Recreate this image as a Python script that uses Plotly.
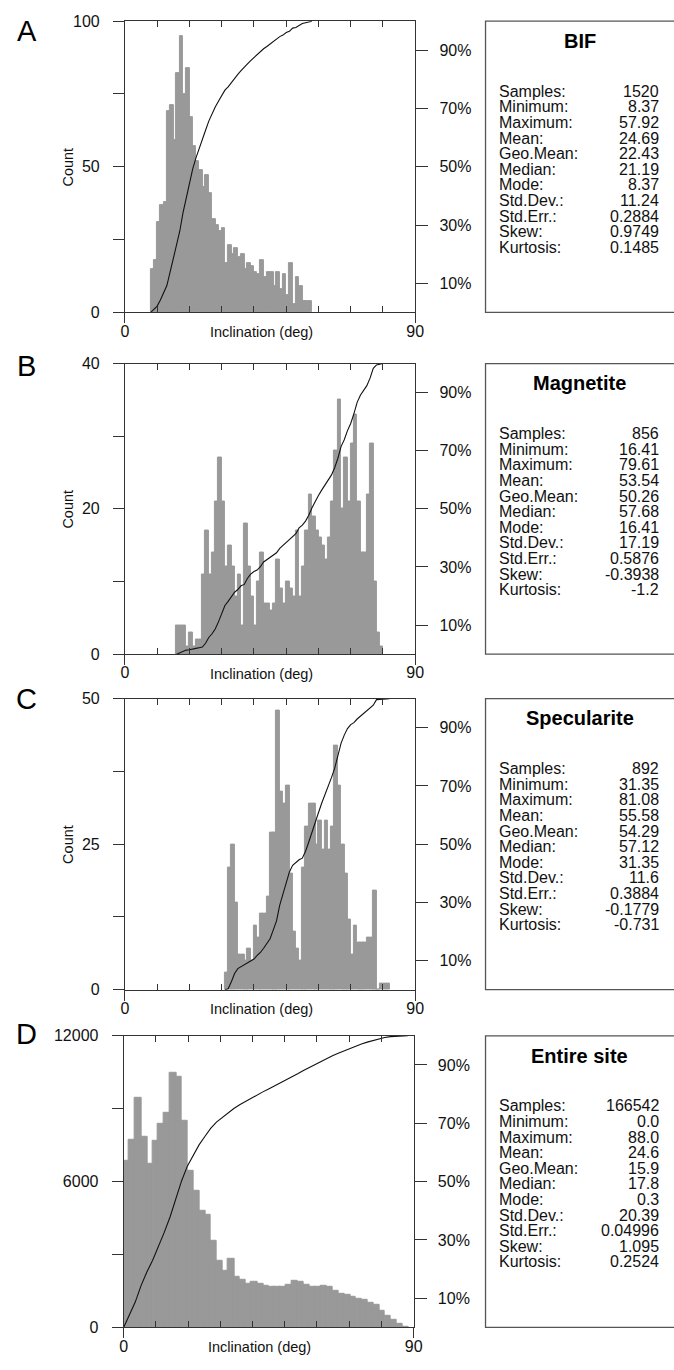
import numpy as np
import plotly.graph_objects as go

# ---------------- data ----------------
panel_letters = ["A", "B", "C", "D"]
panel_titles = ["BIF", "Magnetite", "Specularite", "Entire site"]
show_count_title = [True, True, True, False]

# histogram bin start (deg) and bin width (deg)
bin_start = [8.0, 16.0, 31.0, 0.0]
bin_width = [1.0, 1.0, 1.0, 1.8]

counts_bif = [15, 18, 31, 37, 38, 69, 71, 59, 82, 95,
              75, 84, 67, 57, 52, 49, 43, 47, 41, 32,
              30, 28, 29, 17, 23, 20, 22, 19, 20, 15,
              17, 16, 14, 13, 18, 12, 14, 14, 9, 14,
              8, 13, 6, 17, 3, 12, 9, 4, 4, 4]
counts_magnetite = [4, 4, 4, 1, 3, 1, 2, 2, 11, 17,
                    11, 14, 21, 27, 21, 12, 15, 12, 8, 11,
                    4, 18, 12, 8, 4, 10, 14, 7, 7, 6,
                    7, 13, 9, 7, 10, 9, 8, 17, 8, 12,
                    17, 22, 19, 17, 16, 15, 13, 16, 21, 28,
                    35, 20, 27, 21, 29, 33, 21, 14, 14, 22,
                    29, 10, 3, 1]
counts_specularite = [3, 21, 25, 15, 6, 6, 5, 7, 5, 11,
                      9, 13, 13, 16, 27, 27, 48, 34, 32, 35,
                      20, 10, 7, 5, 21, 28, 32, 32, 25, 29,
                      24, 29, 24, 28, 42, 35, 25, 20, 12, 6,
                      11, 8, 8, 8, 9, 9, 17, 0, 1, 1, 1]
counts_site = [6840, 7720, 9430, 7830, 6720, 7660, 8370, 8850, 10490, 10330,
               8510, 6440, 5620, 4820, 4650, 3560, 2750, 2320, 2820, 2070,
               1980, 1800, 1870, 1800, 1710, 1670, 1670, 1670, 1760, 1900,
               1870, 1760, 1670, 1690, 1710, 1670, 1490, 1400, 1360, 1260,
               1190, 1120, 1030, 920, 690, 490, 310, 150, 40]
all_counts = [counts_bif, counts_magnetite, counts_specularite, counts_site]

count_max = [100, 40, 50, 12000]
x_range = [0, 90]
x_minor_ticks = [10, 20, 30, 40, 50, 60, 70, 80]
pct_ticks = [10, 30, 50, 70, 90]
pct_labels = ["10%", "30%", "50%", "70%", "90%"]

stat_labels = ["Samples:", "Minimum:", "Maximum:", "Mean:", "Geo.Mean:", "Median:",
               "Mode:", "Std.Dev.:", "Std.Err.:", "Skew:", "Kurtosis:"]
stats_bif = ["1520", "8.37", "57.92", "24.69", "22.43", "21.19", "8.37", "11.24", "0.2884", "0.9749", "0.1485"]
stats_magnetite = ["856", "16.41", "79.61", "53.54", "50.26", "57.68", "16.41", "17.19", "0.5876", "-0.3938", "-1.2"]
stats_specularite = ["892", "31.35", "81.08", "55.58", "54.29", "57.12", "31.35", "11.6", "0.3884", "-0.1779", "-0.731"]
stats_site = ["166542", "0.0", "88.0", "24.6", "15.9", "17.8", "0.3", "20.39", "0.04996", "1.095", "0.2524"]
all_stats = [stats_bif, stats_magnetite, stats_specularite, stats_site]

# ---------------- layout geometry (pixels) ----------------
W, H = 674, 1370
p_top = [13.3, 360.0, 699.3, 1040.7]
p_bot = [308.3, 654.3, 994.0, 1336.0]
p_left = [123.3, 123.3, 123.3, 122.0]
p_right = [419.3, 419.3, 419.3, 417.7]
letter_y = [23, 362, 700, 1039]
BAR_OVERLAP = 1.12   # draw bars slightly wider so neighbouring bars leave no seams

FONT = "Liberation Sans, Arial, Helvetica, sans-serif"
LINE = "#333333"
TXT = "#111111"
BAR = "#999999"


def px(x):
    return x / W


def py(y):
    return 1 - y / H


fig = go.Figure()
layout = dict(
    width=W, height=H, autosize=False,
    margin=dict(l=0, r=0, t=0, b=0),
    paper_bgcolor="white", plot_bgcolor="white",
    showlegend=False, bargap=0, bargroupgap=0,
    font=dict(family=FONT, color=TXT),
)
annotations = []
shapes = []

for i in range(4):
    xm = 2 * i + 1
    xi = 2 * i + 2
    yl = 2 * i + 1
    yr = 2 * i + 2
    xm_n = "x" if xm == 1 else f"x{xm}"
    xi_n = f"x{xi}"
    yl_n = "y" if yl == 1 else f"y{yl}"
    yr_n = f"y{yr}"

    counts = np.array(all_counts[i], dtype=float)
    n = len(counts)
    edges = bin_start[i] + bin_width[i] * np.arange(n + 1)
    centers = (edges[:-1] + edges[1:]) / 2
    cum = np.concatenate([[0.0], np.cumsum(counts)]) / counts.sum() * 100

    fig.add_trace(go.Bar(x=centers, y=counts, width=bin_width[i] * BAR_OVERLAP,
                         marker=dict(color=BAR, line=dict(color=BAR, width=1)),
                         xaxis=xm_n, yaxis=yl_n, hoverinfo="skip"))
    fig.add_trace(go.Scatter(x=[], y=[], xaxis=xi_n, yaxis=yl_n, hoverinfo="skip"))
    fig.add_trace(go.Scatter(x=edges, y=cum, mode="lines",
                             line=dict(color="#111111", width=1.1),
                             xaxis=xm_n, yaxis=yr_n, hoverinfo="skip"))

    xdom = [px(p_left[i]), px(p_right[i])]
    ydom = [py(p_bot[i]), py(p_top[i])]
    q = count_max[i] / 4
    ytv = [0, q, 2 * q, 3 * q, 4 * q]
    ytt = [f"{int(v)}" if k % 2 == 0 else "" for k, v in enumerate(ytv)]

    layout[f"xaxis{xm}" if xm > 1 else "xaxis"] = dict(
        domain=xdom, anchor=yl_n, range=x_range, tickmode="array",
        tickvals=[0, 90], ticktext=["0", "90"], ticks="outside", ticklen=10,
        tickcolor=LINE, tickwidth=1, showline=True, linecolor=LINE, linewidth=1,
        mirror=True, showgrid=False, zeroline=False, fixedrange=True,
        tickfont=dict(size=16, family=FONT, color=TXT), ticklabelstandoff=-6,
    )
    layout[f"xaxis{xi}"] = dict(
        overlaying=xm_n, anchor=yl_n, range=x_range, tickmode="array",
        tickvals=x_minor_ticks, showticklabels=False, ticks="inside", ticklen=6,
        tickcolor=LINE, tickwidth=1, showline=True, linecolor=LINE, linewidth=1,
        mirror="ticks", showgrid=False, zeroline=False, fixedrange=True,
    )
    layout[f"yaxis{yl}" if yl > 1 else "yaxis"] = dict(
        domain=ydom, anchor=xm_n, range=[0, count_max[i]], tickmode="array",
        tickvals=ytv, ticktext=ytt, ticks="outside", ticklen=11,
        tickcolor=LINE, tickwidth=1, showline=True, linecolor=LINE, linewidth=1,
        mirror=True, showgrid=False, zeroline=False, fixedrange=True,
        tickfont=dict(size=16, family=FONT, color=TXT), ticklabelstandoff=10,
    )
    layout[f"yaxis{yr}"] = dict(
        overlaying=yl_n, side="right", anchor=xm_n, range=[0, 100], tickmode="array",
        tickvals=pct_ticks, ticktext=pct_labels, ticks="outside", ticklen=12,
        tickcolor=LINE, tickwidth=1, showline=True, linecolor=LINE, linewidth=1,
        showgrid=False, zeroline=False, fixedrange=True,
        tickfont=dict(size=16, family=FONT, color=TXT), ticklabelstandoff=8,
    )

    # panel letter
    annotations.append(dict(x=px(23), y=py(letter_y[i]), xref="paper", yref="paper",
                            text=panel_letters[i], showarrow=False, xanchor="center",
                            yanchor="middle", font=dict(size=29, family=FONT, color="#000")))
    # axis titles
    if show_count_title[i]:
        annotations.append(dict(x=px(65), y=py((p_top[i] + p_bot[i]) / 2), xref="paper", yref="paper",
                                text="Count", textangle=-90, showarrow=False, xanchor="center",
                                yanchor="middle", font=dict(size=14.5, family=FONT, color=TXT)))
    annotations.append(dict(x=px(p_left[i] + 139), y=py(p_bot[i] + 20), xref="paper", yref="paper",
                            text="Inclination (deg)", showarrow=False, xanchor="center",
                            yanchor="middle", font=dict(size=14.5, family=FONT, color=TXT)))

    # stats box
    shapes.append(dict(type="rect", xref="paper", yref="paper",
                       x0=px(491), x1=px(700), y0=py(p_bot[i]), y1=py(p_top[i]),
                       line=dict(color="#555555", width=1.3), fillcolor="rgba(0,0,0,0)"))
    annotations.append(dict(x=px(587), y=py(p_top[i] + 20), xref="paper", yref="paper",
                            text=f"<b>{panel_titles[i]}</b>", showarrow=False, xanchor="center",
                            yanchor="middle", font=dict(size=20, family=FONT, color="#000")))
    for k, lab in enumerate(stat_labels):
        yy = py(p_top[i] + 71 + 15.8 * k)
        annotations.append(dict(x=px(504), y=yy, xref="paper", yref="paper", text=lab,
                                showarrow=False, xanchor="left", yanchor="middle",
                                borderpad=0, font=dict(size=16, family=FONT, color=TXT)))
        annotations.append(dict(x=px(669), y=yy, xref="paper", yref="paper", text=all_stats[i][k],
                                showarrow=False, xanchor="right", yanchor="middle",
                                borderpad=0, font=dict(size=16, family=FONT, color=TXT)))

layout["annotations"] = annotations
layout["shapes"] = shapes
fig.update_layout(**layout)
fig.write_html("out.html", config={"displayModeBar": False})
